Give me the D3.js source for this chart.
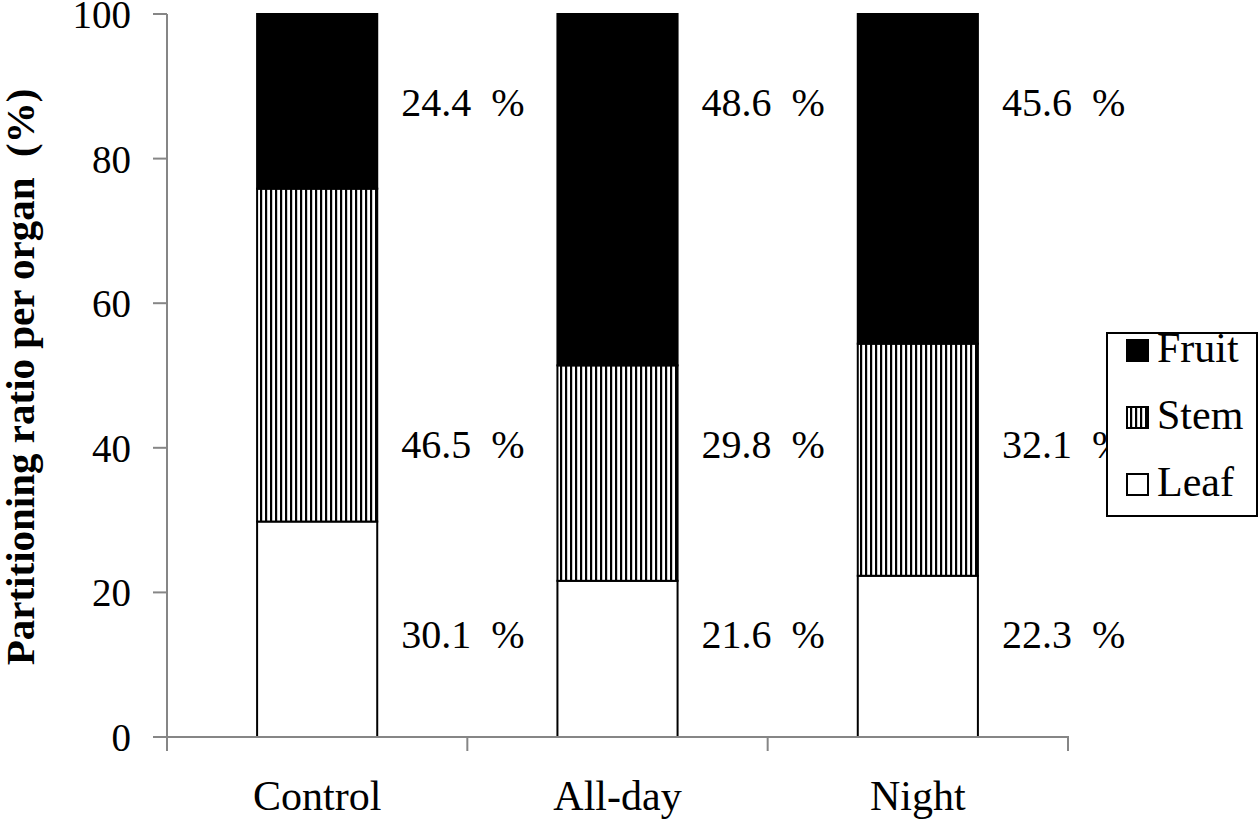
<!DOCTYPE html>
<html><head><meta charset="utf-8">
<script src="https://cdn.jsdelivr.net/npm/d3@7"></script>
<style>body{margin:0;background:#fff}svg{display:block}</style>
</head><body>
<svg id="c" width="1260" height="820"></svg>
<script>
const categories = ["Control", "All-day", "Night"];
const organs = ["Leaf", "Stem", "Fruit"];
const leafValues = [30.1, 21.6, 22.3];
const stemValues = [46.5, 29.8, 32.1];
const fruitValues = [24.4, 48.6, 45.6];
const yTicks = [0, 20, 40, 60, 80, 100];
const legendOrder = ["Fruit", "Stem", "Leaf"];

const FONT = "'Liberation Serif'";
const rows = categories.map((c, i) => ({cat: c, Leaf: leafValues[i], Stem: stemValues[i], Fruit: fruitValues[i]}));

const svg = d3.select("#c");
const defs = svg.append("defs");
const pat = defs.append("pattern").attr("id", "stripes").attr("patternUnits", "userSpaceOnUse")
  .attr("width", 5).attr("height", 10);
pat.append("rect").attr("width", 5).attr("height", 10).attr("fill", "#fff");
pat.append("rect").attr("x", 0).attr("width", 2.2).attr("height", 10).attr("fill", "#000");

const fills = {Leaf: "#fff", Stem: "url(#stripes)", Fruit: "#000"};

const x0 = 167, x1 = 1068, yTop = 14, yBot = 737;
const x = d3.scaleBand().domain(categories).range([x0, x1]).paddingInner(0.6).paddingOuter(0.3);
const y = d3.scaleLinear().domain([0, 100]).range([yBot, yTop]);

const stack = d3.stack().keys(organs).offset(d3.stackOffsetExpand);
const series = stack(rows);

function txt(sel) { return sel.style("font-family", FONT).attr("fill", "#000"); }

// bars
const g = svg.append("g");
series.forEach(s => {
  g.selectAll(null).data(s).enter().append("rect")
    .attr("x", d => x(d.data.cat))
    .attr("width", x.bandwidth())
    .attr("y", d => y(d[1] * 100))
    .attr("height", d => y(d[0] * 100) - y(d[1] * 100))
    .attr("fill", fills[s.key])
    .attr("stroke", "#000").attr("stroke-width", 2);
});

// axes
const axisColor = "#868686";
const ax = svg.append("g");
ax.append("line").attr("x1", x0).attr("x2", x0).attr("y1", yTop).attr("y2", yBot)
  .attr("stroke", axisColor).attr("stroke-width", 2);
ax.append("line").attr("x1", x0 - 14).attr("x2", x1 + 1).attr("y1", yBot).attr("y2", yBot)
  .attr("stroke", axisColor).attr("stroke-width", 2);
ax.selectAll(".yt").data(yTicks).enter().append("line")
  .attr("x1", x0 - 14).attr("x2", x0).attr("y1", d => y(d)).attr("y2", d => y(d))
  .attr("stroke", axisColor).attr("stroke-width", 2);
txt(ax.selectAll(".ytl").data(yTicks).enter().append("text"))
  .attr("x", 131).attr("y", d => y(d) + 14)
  .attr("text-anchor", "end").attr("font-size", 39).text(d => d);
const xTickPos = [x0].concat(categories.map(c => x(c) + x.bandwidth() / 2 + x.step() / 2));
ax.selectAll(".xt").data(xTickPos).enter().append("line")
  .attr("x1", d => d).attr("x2", d => d).attr("y1", yBot).attr("y2", yBot + 14)
  .attr("stroke", axisColor).attr("stroke-width", 2);
txt(ax.selectAll(".xtl").data(categories).enter().append("text"))
  .attr("x", d => x(d) + x.bandwidth() / 2).attr("y", 810)
  .attr("text-anchor", "middle").attr("font-size", 42).text(d => d);

// y title
txt(svg.append("text")).attr("transform", "translate(34,377) rotate(-90)")
  .attr("text-anchor", "middle").attr("font-size", 41).attr("font-weight", "bold")
  .style("white-space", "pre")
  .text("Partitioning ratio per organ  (%)");

// value labels (fixed rows)
const labelRowY = {Fruit: 116, Stem: 458, Leaf: 648};
const valueByOrgan = {Leaf: leafValues, Stem: stemValues, Fruit: fruitValues};
organs.forEach(o => {
  txt(svg.selectAll(null).data(categories).enter().append("text"))
    .attr("x", d => x(d) + x.bandwidth() + 24).attr("y", labelRowY[o])
    .attr("font-size", 40).style("white-space", "pre")
    .text((d, i) => valueByOrgan[o][i].toFixed(1) + "  %");
});

// legend
const lg = svg.append("g");
lg.append("rect").attr("x", 1107).attr("y", 333).attr("width", 150).attr("height", 183)
  .attr("fill", "#fff").attr("stroke", "#000").attr("stroke-width", 2);
legendOrder.forEach((o, i) => {
  const cy = 350 + i * 67;
  lg.append("rect").attr("x", 1127).attr("y", cy - 10).attr("width", 21).attr("height", 21)
    .attr("fill", fills[o]).attr("stroke", "#000").attr("stroke-width", 2);
  txt(lg.append("text")).attr("x", 1157).attr("y", cy + 12).attr("font-size", 42).text(o);
});
</script>
</body></html>
